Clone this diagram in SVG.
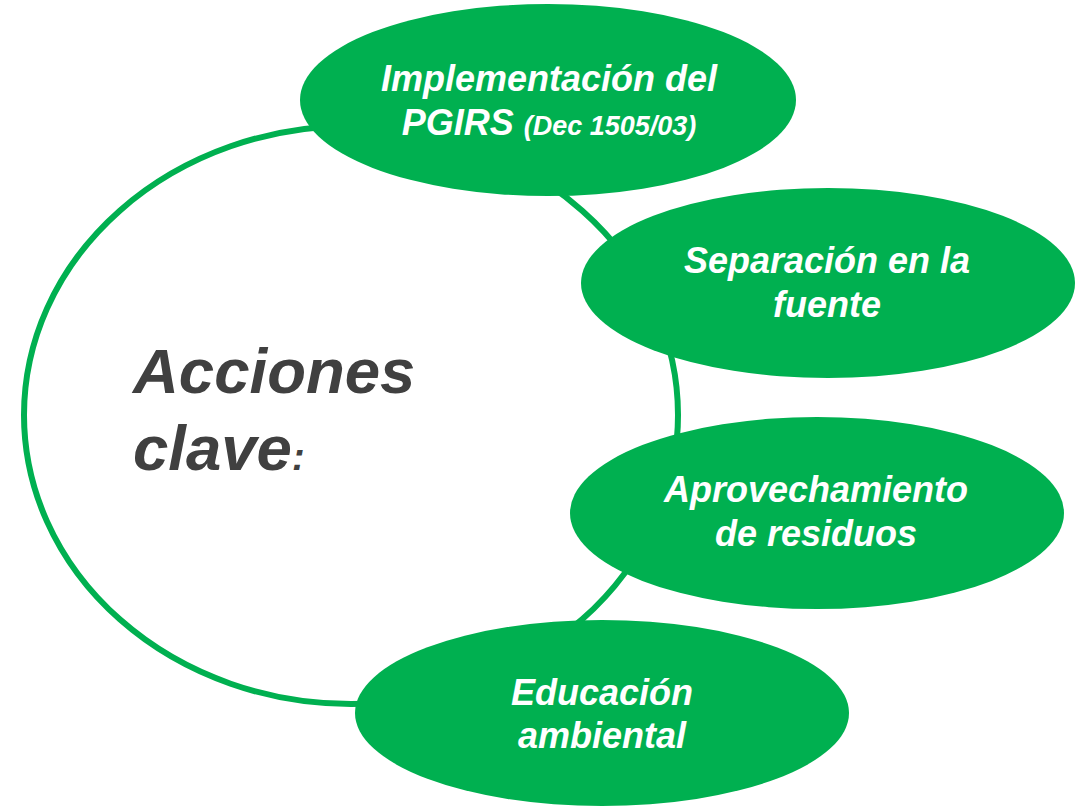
<svg xmlns="http://www.w3.org/2000/svg" width="1089" height="807" viewBox="0 0 1089 807">
<style>
.node{fill:#00B050;}
.lbl{font-family:"Liberation Sans",Arial,sans-serif;font-weight:bold;font-style:italic;font-size:36px;fill:#FFFFFF;text-anchor:middle;}
.small{font-size:27px;}
.title{font-family:"Liberation Sans",Arial,sans-serif;font-weight:bold;font-style:italic;font-size:63.5px;fill:#404040;}
.ring{fill:none;stroke:#00B050;stroke-width:6;}
</style>
<rect width="1089" height="807" fill="#FFFFFF"/>
<g id="connectors">
<ellipse class="ring" cx="351" cy="415" rx="327" ry="289"/>
</g>
<g id="center-label">
<text class="title" x="133" y="393">Acciones</text>
<text class="title" x="133" y="470">clave<tspan font-size="38px" fill="#404040">:</tspan></text>
</g>
<g id="node-pgirs">
<ellipse class="node" cx="548" cy="100" rx="248" ry="96"/>
<text class="lbl" x="549" y="91">Implementación del</text>
<text class="lbl" x="549" y="135">PGIRS <tspan class="small">(Dec 1505/03)</tspan></text>
</g>
<g id="node-separacion">
<ellipse class="node" cx="828" cy="283" rx="247" ry="95"/>
<text class="lbl" x="827" y="273">Separación en la</text>
<text class="lbl" x="827" y="317">fuente</text>
</g>
<g id="node-aprovechamiento">
<ellipse class="node" cx="817" cy="513" rx="247" ry="96"/>
<text class="lbl" x="816" y="502">Aprovechamiento</text>
<text class="lbl" x="816" y="546">de residuos</text>
</g>
<g id="node-educacion">
<ellipse class="node" cx="602" cy="713" rx="247" ry="93"/>
<text class="lbl" x="602" y="705">Educación</text>
<text class="lbl" x="602" y="748">ambiental</text>
</g>
</svg>
